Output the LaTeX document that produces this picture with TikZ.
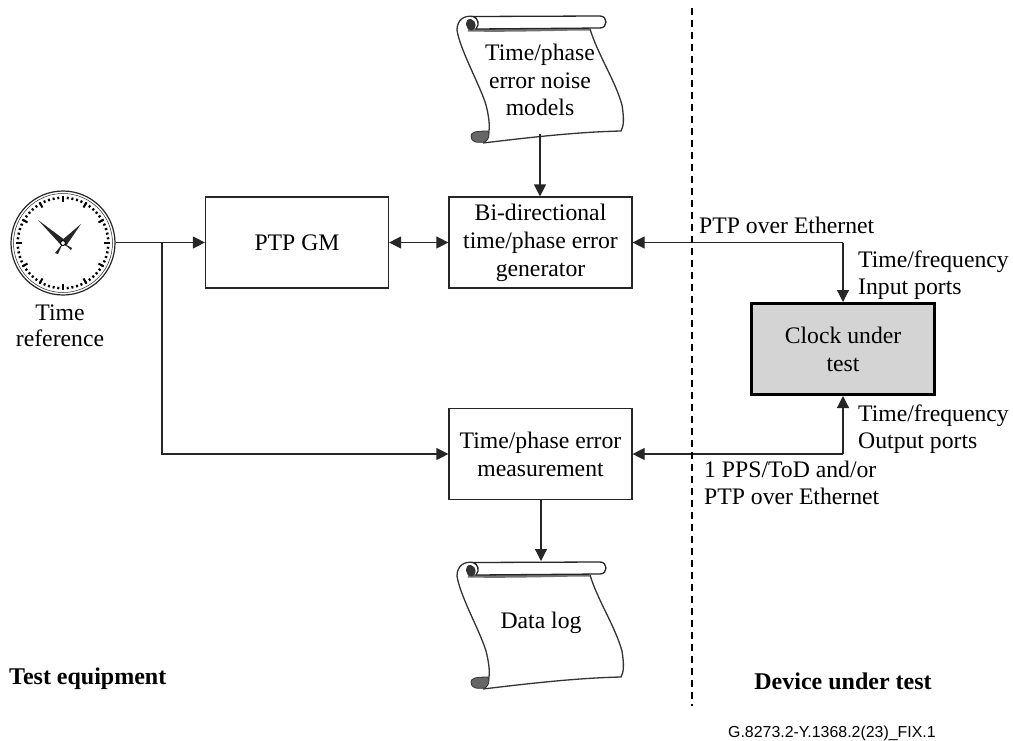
\documentclass[tikz,border=0pt]{standalone}
\usepackage{fontspec}
\setmainfont{Liberation Serif}
\newfontfamily\arialfont{Liberation Sans}
\usetikzlibrary{arrows.meta,calc}
\tikzset{
  ln/.style={draw=black!85,line width=1.2pt},
  arr/.style={ln,-{Triangle[length=12pt,width=12pt]}},
  biarr/.style={ln,{Triangle[length=12pt,width=12pt]}-{Triangle[length=12pt,width=12pt]}},
  boxn/.style={draw=black!85,line width=1.2pt,fill=white,minimum width=183pt,minimum height=91pt,align=center,inner sep=0pt,font=\fontsize{23.7}{28}\selectfont},
  lbl/.style={inner sep=0pt,font=\fontsize{23.7}{28}\selectfont},
  txt/.style={lbl,align=center},
  pics/scrollshape/.style={code={
    \fill[white] (20,17) -- (160,17) .. controls (175,60) and (190,85) .. (183,132) .. controls (120,132) and (70,140) .. (43,143) .. controls (50,100) and (35,80) .. (17,28) -- cycle;
    \draw[black!80,line width=1.3pt,line join=round]
      (33,16.5) .. controls (24,15) and (17,20) .. (17,30)
      .. controls (20,50) and (40,85) .. (46,105)
      .. controls (51,125) and (50,135) .. (45,142);
    \draw[black!80,line width=1.3pt]
      (150,29) .. controls (158,55) and (175,80) .. (182,105)
      .. controls (184,118) and (184,126) .. (181,131)
      .. controls (135,132) and (85,138) .. (43,143);
    \fill[black!60,draw=black!80,line width=.8pt] (45,142) .. controls (36,143) and (31,142) .. (31,136)
      .. controls (31,132) and (36,131) .. (48,131) .. controls (50,135) and (49,139) .. (45,142) -- cycle;
    \draw[black!55,line width=3pt] (28,30) .. controls (70,31) and (120,29) .. (150,29);
    \fill[white,draw=black!85,line width=1.3pt] (33,16.5) -- (160,16) .. controls (168,16) and (168,28) .. (160,28)
      -- (36,29) .. controls (40,24) and (38,18) .. (33,16.5) -- cycle;
    \fill[black!80] (31,19) .. controls (24,18) and (24,30) .. (32,30.5) .. controls (37,29) and (37,21) .. (31,19) -- cycle;
  }}
}
\begin{document}
\begin{tikzpicture}[x=1pt,y=-1pt]
\useasboundingbox (0,0) rectangle (1013,740);
\fill[white] (0,0) rectangle (1013,740);
\node[boxn,anchor=center] (gm) at (297,242.5) {PTP GM};
\node[boxn] (gen) at (540.5,242.5) {Bi-directional\\time/phase error\\generator};
\node[boxn] (meas) at (540.5,454) {Time/phase error\\measurement};
\node[boxn,fill=black!17,line width=3pt,draw=black] (cut) at (843,349) {Clock under\\test};
\path (440,0) pic {scrollshape};
\path (440,546) pic {scrollshape};
\node[txt,font=\fontsize{23.7}{27.5}\selectfont] (noise) at (540,80) {Time/phase\\error noise\\models};
\node[txt] (dlog) at (541,623) {Data log};
\coordinate (noiseb) at (540,134);
\coordinate (logt) at (541,561);
\node[circle,draw=black!85,line width=1.2pt,minimum size=104pt,inner sep=0pt] (clk) at (63,243) {};
\draw[black!85,line width=.5pt] (63,243) circle (49.5pt);
\foreach \a in {0,6,...,354}{\draw[black,line width=2pt] (63,243) ++(\a:44pt) -- ++(\a:2.5pt);}
\foreach \a in {0,30,...,330}{\draw[black,line width=2pt] (63,243) ++(\a:41pt) -- ++(\a:6pt);}
\fill[black!85] (38,220) -- (65.5,240.5) -- (61,245) -- cycle;
\fill[black!85] (81,224) -- (66,246) -- (61,241) -- cycle;
\fill[black!85] (63,243) -- (55,253) -- (58,254) -- cycle;
\fill[black!85] (63,243) -- (71,250) -- (72,248) -- cycle;
\filldraw[fill=white,draw=black,line width=1pt] (63,243) circle (2.5pt);
\node[txt,font=\fontsize{23.7}{26}\selectfont] (tref) at (60,326) {Time\\reference};
\coordinate (br) at (162,242.5);
\coordinate (brd) at (162,454);
\coordinate (cin) at (843,242.5);
\coordinate (cout) at (843,454);
\draw[arr] (clk.east |- gm.west) -- (gm.west);
\draw[arr] (br) -- (brd) -- (meas.west);
\draw[biarr] (gm.east) -- (gen.west);
\draw[arr] (noiseb) -- (gen.north -| noiseb);
\draw[arr] (meas.south -| logt) -- (logt);
\draw[arr] (cin) -- (gen.east);
\draw[arr] (cin) -- (cut.north);
\draw[arr] (cout) -- (meas.east);
\draw[arr] (cout) -- (cut.south);
\coordinate (d1) at (692,8); \coordinate (d2) at (692,706);
\draw[black,line width=1.1pt,dash pattern=on 7pt off 5pt] (d1) -- (d2);
\node[lbl,anchor=base west] (l1) at (699,233) {PTP over Ethernet};
\node[lbl,anchor=base west] (l2) at (858,267) {Time/frequency};
\node[lbl,anchor=base west] (l3) at (858,294) {Input ports};
\node[lbl,anchor=base west] (l4) at (858,421) {Time/frequency};
\node[lbl,anchor=base west] (l5) at (858,448) {Output ports};
\node[lbl,anchor=base west] (l6) at (704,477) {1 PPS/ToD and/or};
\node[lbl,anchor=base west] (l7) at (704,504) {PTP over Ethernet};
\node[lbl,anchor=base west,font=\fontsize{24}{26}\selectfont\bfseries] (te) at (9,684) {Test equipment};
\node[lbl,anchor=base,font=\fontsize{24}{26}\selectfont\bfseries] (dut) at (843,689) {Device under test};
\node[inner sep=0pt,anchor=base west,font=\fontsize{15.9}{19}\arialfont] (fig) at (728,737) {G.8273.2-Y.1368.2(23)\_FIX.1};
\end{tikzpicture}
\end{document}
